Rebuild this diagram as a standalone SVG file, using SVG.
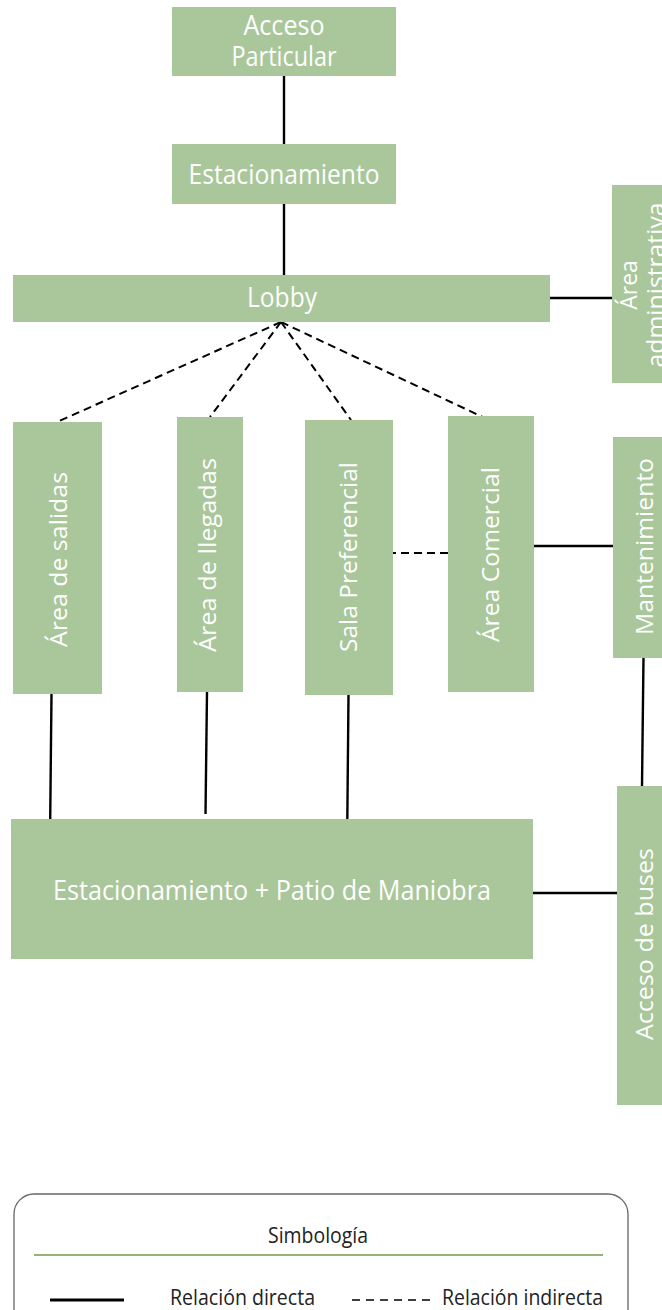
<svg xmlns="http://www.w3.org/2000/svg" width="662" height="1310" viewBox="0 0 662 1310">
  <style>
    .box { fill: #a9c79b; }
    .lbl { fill: #ffffff; font-family: "Open Sans", "Noto Sans", sans-serif; font-weight: 400; font-size: 27px; text-anchor: middle; }
    .vlbl { fill: #ffffff; font-family: "Open Sans", "Noto Sans", sans-serif; font-weight: 400; font-size: 23px; text-anchor: middle; }
    .solid { stroke: #000000; stroke-width: 2.4; fill: none; }
    .dash { stroke: #000000; stroke-width: 2; fill: none; stroke-dasharray: 8 5; }
    .leg { fill: #222222; font-family: "Open Sans", "Noto Sans", sans-serif; font-size: 21px; text-anchor: middle; }
  </style>
  <rect width="662" height="1310" fill="#ffffff"/>

  <!-- connectors -->
  <g id="connectors">
    <line class="solid" x1="284" y1="76" x2="284" y2="144"/>
    <line class="solid" x1="284" y1="204" x2="284" y2="275"/>
    <line class="solid" x1="550" y1="298" x2="612" y2="298"/>
    <line class="dash" x1="281" y1="322" x2="57" y2="422"/>
    <line class="dash" x1="281" y1="322" x2="210" y2="417"/>
    <line class="dash" x1="281" y1="322" x2="351" y2="420"/>
    <line class="dash" x1="281" y1="322" x2="489" y2="420"/>
    <line class="dash" x1="448" y1="553" x2="393" y2="553"/>
    <line class="solid" x1="534" y1="546" x2="613" y2="546"/>
    <line class="solid" x1="51.5" y1="694" x2="50.2" y2="820"/>
    <line class="solid" x1="207" y1="692" x2="205.5" y2="814"/>
    <line class="solid" x1="348.5" y1="695" x2="347.3" y2="822"/>
    <line class="solid" x1="643.5" y1="658" x2="642" y2="786"/>
    <line class="solid" x1="533" y1="893" x2="617" y2="893"/>
  </g>

  <!-- nodes -->
  <g id="acceso-particular">
    <rect class="box" x="172" y="7" width="224" height="69"/>
    <text class="lbl" x="284" y="35" textLength="81" lengthAdjust="spacingAndGlyphs">Acceso</text>
    <text class="lbl" x="284" y="66" textLength="105" lengthAdjust="spacingAndGlyphs">Particular</text>
  </g>
  <g id="estacionamiento">
    <rect class="box" x="172" y="144" width="224" height="60"/>
    <text class="lbl" x="284" y="184" textLength="191" lengthAdjust="spacingAndGlyphs">Estacionamiento</text>
  </g>
  <g id="lobby">
    <rect class="box" x="13" y="275" width="537" height="47"/>
    <text class="lbl" x="282" y="307" textLength="70" lengthAdjust="spacingAndGlyphs">Lobby</text>
  </g>
  <g id="area-administrativa">
    <rect class="box" x="612" y="185" width="70" height="198"/>
    <text class="vlbl" transform="translate(637 285) rotate(-90)" x="0" y="0">Área</text>
    <text class="vlbl" transform="translate(664 285) rotate(-90)" x="0" y="0" textLength="165" lengthAdjust="spacingAndGlyphs">administrativa</text>
  </g>
  <g id="area-salidas">
    <rect class="box" x="13" y="422" width="89" height="272"/>
    <text class="vlbl" transform="translate(67 559.5) rotate(-90)" x="0" y="0" textLength="175" lengthAdjust="spacingAndGlyphs">Área de salidas</text>
  </g>
  <g id="area-llegadas">
    <rect class="box" x="177" y="417" width="66" height="275"/>
    <text class="vlbl" transform="translate(216 555) rotate(-90)" x="0" y="0" textLength="194" lengthAdjust="spacingAndGlyphs">Área de llegadas</text>
  </g>
  <g id="sala-preferencial">
    <rect class="box" x="305" y="420" width="88" height="275"/>
    <text class="vlbl" transform="translate(357 557) rotate(-90)" x="0" y="0" textLength="190" lengthAdjust="spacingAndGlyphs">Sala Preferencial</text>
  </g>
  <g id="area-comercial">
    <rect class="box" x="448" y="416" width="86" height="276"/>
    <text class="vlbl" transform="translate(499 554.5) rotate(-90)" x="0" y="0" textLength="175" lengthAdjust="spacingAndGlyphs">Área Comercial</text>
  </g>
  <g id="mantenimiento">
    <rect class="box" x="613" y="437" width="70" height="221"/>
    <text class="vlbl" transform="translate(653 546.5) rotate(-90)" x="0" y="0" textLength="177" lengthAdjust="spacingAndGlyphs">Mantenimiento</text>
  </g>
  <g id="estacionamiento-patio">
    <rect class="box" x="11" y="819" width="522" height="140"/>
    <text class="lbl" x="272" y="900" textLength="438" lengthAdjust="spacingAndGlyphs">Estacionamiento + Patio de Maniobra</text>
  </g>
  <g id="acceso-buses">
    <rect class="box" x="617" y="786" width="70" height="319"/>
    <text class="vlbl" transform="translate(653 944) rotate(-90)" x="0" y="0" textLength="192" lengthAdjust="spacingAndGlyphs">Acceso de buses</text>
  </g>

  <!-- legend -->
  <g id="simbologia">
    <rect x="14" y="1194" width="614" height="140" rx="20" ry="20" fill="none" stroke="#666666" stroke-width="1.3"/>
    <text class="leg" x="318" y="1243" textLength="100" lengthAdjust="spacingAndGlyphs">Simbología</text>
    <line x1="34" y1="1255" x2="603" y2="1255" stroke="#6f9a4f" stroke-width="1.6"/>
    <line x1="50" y1="1300" x2="124" y2="1300" stroke="#000000" stroke-width="3"/>
    <text class="leg" x="242.5" y="1305" textLength="145" lengthAdjust="spacingAndGlyphs">Relación directa</text>
    <line x1="352" y1="1300" x2="436" y2="1300" stroke="#000000" stroke-width="1.5" stroke-dasharray="8 6"/>
    <text class="leg" x="522.5" y="1305" textLength="161" lengthAdjust="spacingAndGlyphs">Relación indirecta</text>
  </g>
</svg>
